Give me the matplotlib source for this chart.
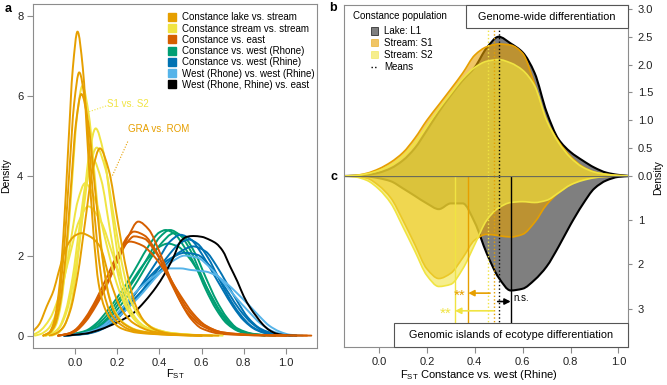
import numpy as np
import matplotlib
matplotlib.use("Agg")
import matplotlib.pyplot as plt
from matplotlib.path import Path
from matplotlib.patches import PathPatch, Rectangle, Patch
from matplotlib.lines import Line2D

plt.rcParams['font.family'] = ['Liberation Sans', 'DejaVu Sans']
plt.rcParams['mathtext.fontset'] = 'custom'
plt.rcParams['mathtext.rm'] = 'Liberation Sans'

# ---------------- Panel a data: density curves (F_ST, density) ----------------
lake_vs_stream = [
    [(-0.15, 0), (-0.12, 0.08), (-0.10, 0.33), (-0.078, 1.03), (-0.055, 2.5), (-0.033, 4.6), (-0.01, 6.7),
     (0.012, 7.6), (0.037, 6.7), (0.062, 4.6), (0.087, 2.6), (0.112, 1.3), (0.14, 0.7), (0.17, 0.4),
     (0.22, 0.18), (0.3, 0.07), (0.45, 0.02), (0.6, 0)],
    [(-0.15, 0), (-0.124, 0.07), (-0.1, 0.29), (-0.076, 0.89), (-0.052, 2.14), (-0.028, 4.0), (-0.004, 5.8),
     (0.02, 6.58), (0.049, 5.8), (0.078, 4.0), (0.107, 2.2), (0.136, 1.1), (0.165, 0.6), (0.2, 0.35),
     (0.26, 0.15), (0.35, 0.06), (0.5, 0.01), (0.65, 0)],
    [(-0.15, 0), (-0.12, 0.07), (-0.095, 0.27), (-0.07, 0.82), (-0.045, 1.96), (-0.02, 3.66), (0.005, 5.33),
     (0.03, 6.04), (0.0625, 5.33), (0.095, 3.66), (0.1275, 2.05), (0.16, 1.0), (0.19, 0.55), (0.23, 0.3),
     (0.3, 0.12), (0.4, 0.05), (0.55, 0.01), (0.68, 0)],
    [(-0.12, 0), (-0.092, 0.05), (-0.057, 0.2), (-0.022, 0.63), (0.013, 1.52), (0.048, 2.84), (0.083, 4.13),
     (0.118, 4.68), (0.1605, 4.13), (0.203, 2.84), (0.2455, 1.6), (0.288, 0.75), (0.33, 0.35), (0.38, 0.15),
     (0.45, 0.05), (0.6, 0)],
    [(-0.2, 0.1), (-0.17, 0.28), (-0.134, 0.73), (-0.1, 1.15), (-0.079, 1.56), (-0.039, 2.23), (0.0, 2.5),
     (0.03, 2.56), (0.07, 2.48), (0.118, 2.23), (0.166, 1.39), (0.213, 0.73), (0.275, 0.32), (0.37, 0.1),
     (0.5, 0.02), (0.6, 0)],
]
stream_vs_stream = [
    [(-0.14, 0), (-0.115, 0.07), (-0.09, 0.27), (-0.065, 0.84), (-0.04, 2.03), (-0.015, 3.78), (0.01, 5.5),
     (0.035, 6.24), (0.066, 5.5), (0.097, 3.78), (0.128, 2.1), (0.159, 1.05), (0.19, 0.6), (0.23, 0.32),
     (0.3, 0.13), (0.4, 0.05), (0.55, 0)],
    [(-0.11, 0), (-0.082, 0.06), (-0.052, 0.23), (-0.022, 0.7), (0.008, 1.68), (0.038, 3.14), (0.068, 4.57),
     (0.098, 5.18), (0.1355, 4.57), (0.173, 3.14), (0.2105, 1.75), (0.248, 0.85), (0.29, 0.42), (0.34, 0.2),
     (0.42, 0.08), (0.55, 0.02), (0.65, 0)],
    [(-0.14, 0), (-0.107, 0.05), (-0.072, 0.21), (-0.037, 0.64), (-0.002, 1.53), (0.033, 2.85), (0.068, 4.15),
     (0.103, 4.7), (0.1455, 4.15), (0.188, 2.85), (0.2305, 1.6), (0.273, 0.78), (0.32, 0.38), (0.38, 0.17),
     (0.46, 0.06), (0.6, 0)],
    [(-0.19, 0), (-0.162, 0.04), (-0.127, 0.17), (-0.092, 0.52), (-0.057, 1.24), (-0.022, 2.31), (0.013, 3.36),
     (0.048, 3.81), (0.098, 3.36), (0.148, 2.31), (0.198, 1.3), (0.248, 0.65), (0.3, 0.32), (0.37, 0.14),
     (0.46, 0.05), (0.6, 0)],
    [(-0.2, 0.02), (-0.17, 0.1), (-0.117, 0.44), (-0.072, 1.05), (-0.027, 1.96), (0.018, 2.85), (0.063, 3.23),
     (0.123, 2.85), (0.183, 1.96), (0.243, 1.1), (0.303, 0.5), (0.363, 0.2), (0.45, 0.07), (0.6, 0.01),
     (0.7, 0)],
    [(-0.14, 0), (-0.11, 0.05), (-0.077, 0.19), (-0.045, 0.6), (-0.012, 1.43), (0.02, 2.67), (0.053, 3.88),
     (0.085, 4.4), (0.125, 3.88), (0.165, 2.67), (0.205, 1.5), (0.245, 0.75), (0.29, 0.35), (0.35, 0.15),
     (0.45, 0.05), (0.6, 0)],
]
constance_vs_east = [
    [(-0.08, 0), (-0.03, 0.05), (0.0, 0.12), (0.05, 0.42), (0.1, 0.85), (0.15, 1.3), (0.2, 1.85), (0.25, 2.45),
     (0.3, 2.85), (0.35, 2.65), (0.4, 2.1), (0.45, 1.45), (0.5, 0.85), (0.55, 0.42), (0.6, 0.18), (0.7, 0.04),
     (0.85, 0.01), (1.1, 0)],
    [(-0.08, 0), (-0.03, 0.05), (0.0, 0.13), (0.05, 0.4), (0.1, 0.8), (0.15, 1.3), (0.2, 1.95), (0.25, 2.48),
     (0.28, 2.6), (0.33, 2.5), (0.38, 2.15), (0.43, 1.6), (0.48, 1.05), (0.53, 0.6), (0.6, 0.25), (0.7, 0.06),
     (0.85, 0.01), (1.0, 0)],
    [(-0.08, 0), (-0.03, 0.04), (0.0, 0.1), (0.05, 0.35), (0.1, 0.75), (0.15, 1.25), (0.2, 1.85), (0.25, 2.35),
     (0.28, 2.48), (0.33, 2.42), (0.38, 2.1), (0.43, 1.65), (0.48, 1.15), (0.53, 0.68), (0.6, 0.3), (0.7, 0.08),
     (0.85, 0.01), (1.0, 0)],
    [(-0.08, 0), (-0.03, 0.05), (0.0, 0.14), (0.05, 0.45), (0.1, 0.9), (0.15, 1.45), (0.2, 2.0), (0.26, 2.35),
     (0.32, 2.25), (0.38, 1.95), (0.44, 1.5), (0.5, 1.0), (0.56, 0.55), (0.62, 0.25), (0.7, 0.08), (0.85, 0.02),
     (1.0, 0.005), (1.12, 0)],
]
constance_vs_rhone = [
    [(-0.05, 0), (0.05, 0.12), (0.1, 0.3), (0.15, 0.6), (0.2, 0.95), (0.25, 1.35), (0.3, 1.8), (0.35, 2.25),
     (0.4, 2.58), (0.43, 2.64), (0.47, 2.55), (0.52, 2.2), (0.57, 1.75), (0.62, 1.15), (0.67, 0.65), (0.72, 0.3),
     (0.78, 0.1), (0.85, 0.02), (0.95, 0)],
    [(-0.05, 0), (0.05, 0.08), (0.1, 0.2), (0.15, 0.42), (0.2, 0.75), (0.25, 1.15), (0.3, 1.55), (0.35, 2.0),
     (0.4, 2.45), (0.45, 2.64), (0.5, 2.5), (0.55, 2.1), (0.6, 1.5), (0.65, 0.92), (0.7, 0.48), (0.75, 0.2),
     (0.82, 0.05), (0.9, 0)],
    [(-0.05, 0), (0.05, 0.07), (0.1, 0.18), (0.15, 0.38), (0.2, 0.65), (0.25, 1.0), (0.3, 1.4), (0.35, 1.85),
     (0.4, 2.25), (0.47, 2.56), (0.52, 2.45), (0.57, 2.05), (0.62, 1.45), (0.67, 0.88), (0.72, 0.45), (0.77, 0.18),
     (0.85, 0.04), (0.95, 0)],
    [(-0.05, 0), (0.05, 0.1), (0.1, 0.25), (0.15, 0.5), (0.2, 0.85), (0.25, 1.2), (0.3, 1.6), (0.35, 1.95),
     (0.4, 2.22), (0.44, 2.3), (0.49, 2.22), (0.54, 1.95), (0.59, 1.55), (0.64, 1.05), (0.69, 0.6), (0.74, 0.28),
     (0.8, 0.08), (0.9, 0)],
]
constance_vs_rhine = [
    [(-0.05, 0), (0.05, 0.05), (0.1, 0.12), (0.15, 0.28), (0.2, 0.5), (0.25, 0.8), (0.3, 1.15), (0.35, 1.55),
     (0.4, 1.95), (0.45, 2.35), (0.5, 2.52), (0.55, 2.4), (0.6, 2.05), (0.65, 1.6), (0.7, 1.15), (0.75, 0.72),
     (0.8, 0.38), (0.86, 0.14), (0.93, 0.03), (1.0, 0)],
    [(-0.05, 0), (0.05, 0.04), (0.1, 0.1), (0.15, 0.22), (0.2, 0.42), (0.25, 0.7), (0.3, 1.0), (0.35, 1.35),
     (0.4, 1.7), (0.45, 2.05), (0.5, 2.32), (0.54, 2.4), (0.58, 2.3), (0.63, 1.95), (0.68, 1.45), (0.73, 0.95),
     (0.78, 0.55), (0.84, 0.22), (0.9, 0.07), (1.0, 0)],
    [(-0.05, 0), (0.05, 0.05), (0.1, 0.12), (0.15, 0.28), (0.2, 0.5), (0.25, 0.75), (0.3, 1.02), (0.35, 1.3),
     (0.4, 1.6), (0.45, 1.88), (0.5, 2.1), (0.56, 2.23), (0.62, 2.1), (0.67, 1.75), (0.72, 1.3), (0.77, 0.85),
     (0.82, 0.45), (0.88, 0.17), (0.95, 0.04), (1.02, 0)],
    [(-0.05, 0), (0.05, 0.06), (0.1, 0.15), (0.15, 0.32), (0.2, 0.55), (0.25, 0.85), (0.3, 1.15), (0.35, 1.45),
     (0.4, 1.72), (0.45, 1.92), (0.52, 2.07), (0.58, 2.02), (0.63, 1.8), (0.68, 1.45), (0.73, 1.05), (0.78, 0.65),
     (0.84, 0.3), (0.9, 0.1), (0.97, 0.02), (1.03, 0)],
]
rhone_vs_rhine = [
    [(-0.05, 0), (0.0, 0.02), (0.1, 0.15), (0.2, 0.55), (0.29, 1.1), (0.35, 1.38), (0.4, 1.58), (0.45, 1.68),
     (0.5, 1.68), (0.55, 1.64), (0.62, 1.6), (0.67, 1.5), (0.72, 1.3), (0.77, 1.05), (0.83, 0.73), (0.88, 0.45),
     (0.92, 0.25), (0.97, 0.1), (1.02, 0.02), (1.08, 0)],
    [(-0.05, 0), (0.05, 0.05), (0.1, 0.12), (0.2, 0.45), (0.3, 0.95), (0.4, 1.55), (0.46, 1.85), (0.52, 2.0),
     (0.58, 1.95), (0.64, 1.7), (0.7, 1.35), (0.76, 0.97), (0.82, 0.62), (0.88, 0.3), (0.94, 0.1), (1.0, 0.02),
     (1.05, 0)],
]
west_vs_east = [
    [(-0.05, 0), (0.05, 0.05), (0.118, 0.15), (0.2, 0.33), (0.276, 0.56), (0.33, 0.85), (0.387, 1.23),
     (0.42, 1.5), (0.466, 1.95), (0.5, 2.35), (0.53, 2.47), (0.56, 2.49), (0.6, 2.47), (0.64, 2.39), (0.67, 2.3),
     (0.7, 2.12), (0.735, 1.73), (0.77, 1.35), (0.8, 0.98), (0.83, 0.7), (0.86, 0.48), (0.89, 0.28),
     (0.92, 0.14), (0.955, 0.05), (1.0, 0.01), (1.05, 0)],
]

legend_a_labels = ["Constance lake vs. stream", "Constance stream vs. stream", "Constance vs. east",
                   "Constance vs. west (Rhone)", "Constance vs. west (Rhine)",
                   "West (Rhone) vs. west (Rhine)", "West (Rhone, Rhine) vs. east"]
legend_a_colors = ["#E69F00", "#F0E442", "#D55E00", "#009E73", "#0072B2", "#56B4E9", "#000000"]

# ---------------- Panel b/c data ----------------
fst_grid = [-0.15, -0.1, -0.05, 0.0, 0.05, 0.1, 0.15, 0.2, 0.25, 0.3, 0.35, 0.4, 0.45, 0.5, 0.55,
            0.6, 0.65, 0.7, 0.75, 0.8, 0.85, 0.9, 0.95, 1.0, 1.05]
genome_L1 = [0, 0.005, 0.02, 0.06, 0.14, 0.28, 0.5, 0.82, 1.15, 1.45, 1.72, 1.95, 2.3, 2.5, 2.38,
             2.22, 1.85, 1.15, 0.66, 0.43, 0.28, 0.15, 0.06, 0.02, 0]
genome_S1 = [0, 0.01, 0.05, 0.13, 0.25, 0.42, 0.68, 1.0, 1.28, 1.56, 1.85, 2.17, 2.32, 2.37, 2.35,
             2.2, 1.65, 1.0, 0.62, 0.35, 0.17, 0.07, 0.03, 0.01, 0]
genome_S2 = [0, 0.01, 0.04, 0.1, 0.2, 0.36, 0.6, 0.9, 1.2, 1.48, 1.75, 1.95, 2.06, 2.09, 2.03,
             1.9, 1.62, 1.0, 0.6, 0.33, 0.16, 0.07, 0.03, 0.01, 0]
islands_L1 = [0, 0, 0.01, 0.05, 0.12, 0.28, 0.45, 0.62, 0.75, 0.62, 0.62, 1.05, 1.75, 2.3, 2.59,
              2.55, 2.35, 2.05, 1.6, 1.1, 0.65, 0.28, 0.1, 0.02, 0]
islands_S1 = [0, 0.01, 0.05, 0.22, 0.5, 1.0, 1.55, 2.1, 2.32, 2.2, 1.85, 1.45, 1.32, 1.35, 1.38,
              1.32, 1.05, 0.65, 0.38, 0.2, 0.08, 0.03, 0.01, 0, 0]
islands_S2 = [0, 0.02, 0.1, 0.3, 0.62, 1.15, 1.7, 2.25, 2.5, 2.45, 2.1, 1.55, 1.0, 0.72, 0.6,
              0.58, 0.6, 0.55, 0.38, 0.2, 0.1, 0.04, 0.01, 0, 0]
means_genome = {"L1": 0.50, "S1": 0.48, "S2": 0.457}
means_islands = {"L1": 0.55, "S1": 0.373, "S2": 0.318}
pop_labels = ["Lake: L1", "Stream: S1", "Stream: S2"]

ORANGE, YELLOW = "#E69F00", "#F0E442"


def smooth_path(xs, ys, close=False):
    xs = np.asarray(xs, float)
    ys = np.asarray(ys, float)
    h = np.diff(xs)
    d = np.diff(ys) / h
    n = len(xs)
    m = np.zeros(n)
    m[0], m[-1] = d[0], d[-1]
    for k in range(1, n - 1):
        if d[k - 1] * d[k] <= 0:
            m[k] = 0
        else:
            w1 = 2 * h[k] + h[k - 1]
            w2 = h[k] + 2 * h[k - 1]
            m[k] = (w1 + w2) / (w1 / d[k - 1] + w2 / d[k])
    verts = [(xs[0], ys[0])]
    codes = [Path.MOVETO]
    for k in range(n - 1):
        verts += [(xs[k] + h[k] / 3, ys[k] + m[k] * h[k] / 3),
                  (xs[k + 1] - h[k] / 3, ys[k + 1] - m[k + 1] * h[k] / 3),
                  (xs[k + 1], ys[k + 1])]
        codes += [Path.CURVE4] * 3
    if close:
        verts += [(xs[-1], 0), (xs[0], 0), (xs[0], 0)]
        codes += [Path.LINETO, Path.LINETO, Path.CLOSEPOLY]
    return Path(verts, codes)


W, H = 667, 385
fig = plt.figure(figsize=(W / 100, H / 100), dpi=100)


def fx(px):
    return px / W


def fy(py):
    return 1 - py / H


SPINE = "#8c8c8c"

# ---------------- Panel a ----------------
axa = fig.add_axes([fx(33), fy(348), fx(317) - fx(33), fy(4) - fy(348)])
groups = [(constance_vs_rhone, "#009E73"), (constance_vs_rhine, "#0072B2"), (rhone_vs_rhine, "#56B4E9"),
          (west_vs_east, "#000000"), (constance_vs_east, "#D55E00"),
          (stream_vs_stream, YELLOW), (lake_vs_stream, ORANGE)]
for curves, col in groups:
    for c in curves:
        xs = [p[0] for p in c]
        ys = [p[1] for p in c]
        axa.add_patch(PathPatch(smooth_path(xs, ys), fill=False, edgecolor=col, lw=1.4,
                                capstyle='round', joinstyle='round'))
axa.set_xlim(-0.199, 1.147)
axa.set_ylim(-0.31, 8.29)
axa.set_xticks([0.0, 0.2, 0.4, 0.6, 0.8, 1.0])
axa.set_xticklabels(["0.0", "0.2", "0.4", "0.6", "0.8", "1.0"])
axa.set_yticks([0, 2, 4, 6, 8])
for s in axa.spines.values():
    s.set_color(SPINE)
    s.set_linewidth(0.8)
axa.tick_params(colors=SPINE, labelcolor="#222222", labelsize=8, length=4, width=0.8, pad=3)
axa.set_ylabel("Density", fontsize=7.5, labelpad=4)
fig.text(fx(175), fy(374), "F$_{\\mathrm{ST}}$", fontsize=8, ha='center', va='center')

# annotations
axa.plot([0.147, 0.068], [5.74, 5.6], ls=(0, (1, 1.5)), color=YELLOW, lw=0.8)
axa.text(0.15, 5.8, "S1 vs. S2", color=YELLOW, fontsize=7, va='center', ha='left')
axa.plot([0.25, 0.174], [4.85, 3.96], ls=(0, (1, 1.5)), color=ORANGE, lw=0.8)
axa.text(0.252, 5.17, "GRA vs. ROM", color=ORANGE, fontsize=7, va='center', ha='left')

handles_a = [Line2D([], [], marker='s', ls='none', markersize=5.5, markerfacecolor=c, markeredgecolor=c)
             for c in legend_a_colors]
axa.legend(handles_a, legend_a_labels, loc='upper left', bbox_to_anchor=(0.445, 1.0), frameon=False,
           fontsize=7, handlelength=0.8, handletextpad=0.7, labelspacing=0.13, borderpad=0.35)

fig.text(fx(8), fy(9), "a", fontsize=9, fontweight='bold', ha='center', va='center')

# ---------------- Panel b / c ----------------
yz = 176
axU = fig.add_axes([fx(344), fy(yz), fx(628) - fx(344), fy(5) - fy(yz)])
axL = fig.add_axes([fx(344), fy(347), fx(628) - fx(344), fy(yz) - fy(347)])
xl = (-0.146, 1.04)
upper_top = (yz - 5) / 55.7
lower_bot = (347 - yz) / 44.2

pops = [("L1", "#000000", 0.5, "#000000", 1.5),
        ("S1", ORANGE, 0.6, ORANGE, 1.2),
        ("S2", YELLOW, 0.6, YELLOW, 1.2)]
gen = {"L1": genome_L1, "S1": genome_S1, "S2": genome_S2}
isl = {"L1": islands_L1, "S1": islands_S1, "S2": islands_S2}

for ax, dat in [(axU, gen), (axL, isl)]:
    for key, fc, al, ec, lw in pops:
        ax.add_patch(PathPatch(smooth_path(fst_grid, dat[key], close=True), facecolor=fc, alpha=al,
                               edgecolor='none'))
        ax.add_patch(PathPatch(smooth_path(fst_grid, dat[key]), fill=False, edgecolor=ec, lw=lw))

axU.set_xlim(*xl)
axL.set_xlim(*xl)
axU.set_ylim(0, upper_top)
axL.set_ylim(lower_bot, 0)

# means
mean_cols = {"L1": "#000000", "S1": ORANGE, "S2": YELLOW}
for key in ["S2", "S1", "L1"]:
    for ax, top in [(axU, upper_top), (axL, lower_bot)]:
        ax.plot([means_genome[key]] * 2, [0, top], ls=(0, (1, 1.6)), color=mean_cols[key], lw=1.0)
    axL.plot([means_islands[key]] * 2, [0, lower_bot], ls='-', color=mean_cols[key], lw=1.0)

axL.axhline(0, color="#6b6b5a", lw=0.9)

# arrows
arrow_style = '-|>,head_length=0.35,head_width=0.18'
axL.annotate("", xy=(0.373, 2.65), xytext=(0.464, 2.65),
             arrowprops=dict(arrowstyle=arrow_style, color=ORANGE, lw=1.2, shrinkA=0, shrinkB=0))
axL.annotate("", xy=(0.55, 2.84), xytext=(0.496, 2.84),
             arrowprops=dict(arrowstyle=arrow_style, color="#000000", lw=1.2, shrinkA=0, shrinkB=0))
axL.annotate("", xy=(0.318, 3.05), xytext=(0.478, 3.05),
             arrowprops=dict(arrowstyle=arrow_style, color=YELLOW, lw=1.2, shrinkA=0, shrinkB=0))
axL.text(0.336, 2.72, "**", color=ORANGE, fontsize=11, ha='center', va='center')
axL.text(0.28, 3.11, "**", color=YELLOW, fontsize=11, ha='center', va='center')
axL.text(0.562, 2.77, "n.s.", color="#000000", fontsize=7, ha='left', va='center')

# boxes
axU.add_patch(Rectangle((0.362, upper_top - 23 / 55.7), xl[1] - 0.362, 23 / 55.7, facecolor='white',
                        edgecolor="#555555", lw=0.8, zorder=5, clip_on=False))
axU.text((0.362 + xl[1]) / 2, upper_top - 11.5 / 55.7, "Genome-wide differentiation", fontsize=7.8,
         ha='center', va='center', zorder=6)
axL.add_patch(Rectangle((0.063, lower_bot), xl[1] - 0.063, -24 / 44.2, facecolor='white',
                        edgecolor="#555555", lw=0.8, zorder=5, clip_on=False))
axL.text((0.063 + xl[1]) / 2, lower_bot - 12 / 44.2, "Genomic islands of ecotype differentiation",
         fontsize=7.8, ha='center', va='center', zorder=6)

# spines and ticks
for ax in (axU, axL):
    for s in ax.spines.values():
        s.set_color(SPINE)
        s.set_linewidth(0.8)
    ax.yaxis.tick_right()
    ax.tick_params(axis='y', colors=SPINE, labelcolor="#222222", labelsize=8, length=3, width=0.8, pad=4)
axU.spines['bottom'].set_visible(False)
axL.spines['top'].set_visible(False)
axU.set_xticks([])
axU.set_yticks([0.0, 0.5, 1.0, 1.5, 2.0, 2.5, 3.0])
axU.set_yticklabels(["0.0", "0.5", "1.0", "1.5", "2.0", "2.5", "3.0"])
axL.set_yticks([1, 2, 3])
axL.set_xticks([0.0, 0.2, 0.4, 0.6, 0.8, 1.0])
axL.set_xticklabels(["0.0", "0.2", "0.4", "0.6", "0.8", "1.0"])
axL.tick_params(axis='x', colors=SPINE, labelcolor="#222222", labelsize=8, length=4, width=0.8, pad=3)

fig.text(fx(479), fy(375), "F$_{\\mathrm{ST}}$ Constance vs. west (Rhine)", fontsize=8, ha='center',
         va='center')
fig.text(fx(658), fy(178), "Density", fontsize=7.5, rotation=90, ha='center', va='center')

# legend b
axU.text(0.03, 0.935, "Constance population", transform=axU.transAxes, fontsize=7, ha='left', va='center')
handles_b = [Patch(facecolor="#7f7f7f", edgecolor="#333333", lw=0.6),
             Patch(facecolor=ORANGE, alpha=0.6, edgecolor=ORANGE, lw=0.6),
             Patch(facecolor=YELLOW, alpha=0.6, edgecolor=YELLOW, lw=0.6),
             Line2D([], [], ls=(0, (1, 1.6)), color='#000000', lw=1.0)]
axU.legend(handles_b, pop_labels + ["Means"], loc='upper left', bbox_to_anchor=(0.07, 0.915), frameon=False,
           fontsize=7, handlelength=0.75, handleheight=0.75, handletextpad=0.6, labelspacing=0.2,
           borderpad=0.2)

fig.text(fx(333), fy(8), "b", fontsize=9, fontweight='bold', ha='center', va='center')
fig.text(fx(334), fy(177), "c", fontsize=9, fontweight='bold', ha='center', va='center')

fig.savefig("out.png", dpi=100)
